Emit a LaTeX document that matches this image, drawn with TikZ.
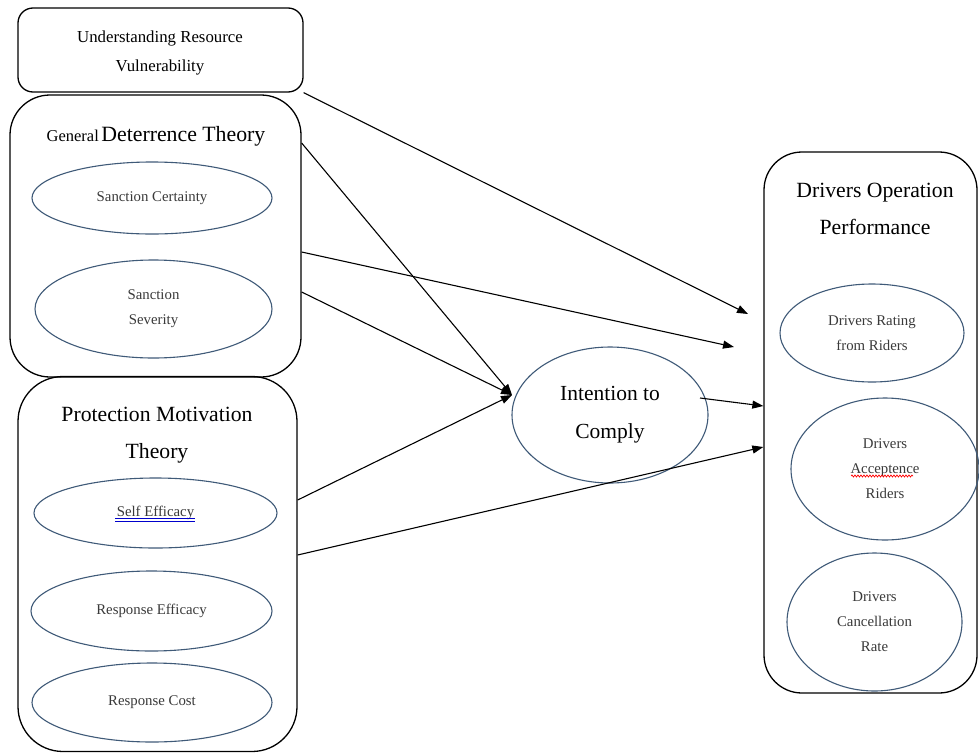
\documentclass[tikz,border=0pt]{standalone}
\usepackage{fontspec}
\setmainfont{Liberation Serif}
\usetikzlibrary{shapes.geometric,arrows.meta,decorations.pathmorphing}
\definecolor{ellc}{HTML}{3F5A78}
\definecolor{etext}{HTML}{3A3A3A}
\begin{document}
\begin{tikzpicture}[x=1pt,y=-1pt,
  box/.style={draw=black, line width=1.3pt, rectangle, inner sep=0pt},
  ell/.style={draw=ellc, line width=1.1pt, ellipse, inner sep=0pt, text=etext, align=center, font=\fontsize{14.8}{25}\selectfont},
  arr/.style={line width=1.1pt, -{Triangle[length=11pt,width=8pt]}},
  ttl/.style={align=center, inner sep=0pt}]
\fill[white] (0,0) rectangle (979,755);
\useasboundingbox (0,0) rectangle (979,755);
% boxes
\node[box, rounded corners=15pt, minimum width=285pt, minimum height=84pt] (urv) at (160.5,50) {};
\node[box, rounded corners=40pt, minimum width=291pt, minimum height=282pt] (gdt) at (155.5,236) {};
\node[box, rounded corners=45pt, minimum width=279pt, minimum height=375pt] (pmt) at (157.5,564) {};
\node[box, rounded corners=38pt, minimum width=213pt, minimum height=541pt] (dop) at (870.5,422.5) {};
% titles
\node[ttl, font=\fontsize{16.8}{29}\selectfont] (urvt) at (160,53) {Understanding Resource\\Vulnerability};
\node[ttl] (gdtt) at (156,136) {{\fontsize{16.5}{20}\selectfont General} {\fontsize{21.8}{24}\selectfont Deterrence Theory}};
\node[ttl, font=\fontsize{21.7}{37}\selectfont] (pmtt) at (157,435) {Protection Motivation\\Theory};
\node[ttl, font=\fontsize{21.7}{37}\selectfont] (dopt) at (875,209) {Drivers Operation\\Performance};
% ellipses
\node[ell, minimum width=240pt, minimum height=72pt] (sc) at (152,198) {Sanction Certainty};
\node[ell, minimum width=237pt, minimum height=98pt] (ss) at (153.5,309) {Sanction\\Severity};
\node[ell, minimum width=243pt, minimum height=70pt] (se) at (155.5,513) {Self Efficacy};
\node[ell, minimum width=241pt, minimum height=80pt] (re) at (151.5,611) {Response Efficacy};
\node[ell, minimum width=240pt, minimum height=79pt] (rc) at (152,702.5) {Response Cost};
\node[ell, text=black, minimum width=196pt, minimum height=136pt, font=\fontsize{21.5}{38}\selectfont] (itc) at (610,415) {Intention to\\Comply};
\node[ell, minimum width=184pt, minimum height=98pt] (dr) at (872,333) {Drivers Rating\\from Riders};
\node[ell, minimum width=188pt, minimum height=142pt] (da) at (885,469) {Drivers\\Acceptence\\Riders};
\node[ell, minimum width=175pt, minimum height=138pt] (dc) at (874.5,622) {Drivers\\Cancellation\\Rate};
% proofing marks
\draw[blue!80!black, line width=0.7pt] (115,518.5) -- (195,518.5);
\draw[blue!80!black, line width=0.7pt] (115,521) -- (195,521);
\draw[red, line width=0.7pt, decorate, decoration={snake, amplitude=1pt, segment length=3pt}] (851,476) -- (913,476);
% connector end points
\coordinate (s2) at (gdt.east |- 0,143);
\coordinate (s3) at (gdt.east |- 0,252);
\coordinate (s4) at (gdt.east |- 0,292);
\coordinate (s5) at (pmt.east |- 0,500);
\coordinate (s6) at (pmt.east |- 0,555);
\coordinate (s7) at (700,398);
\coordinate (itcin) at (512,395);
\coordinate (e1) at (748,314);
\coordinate (e3) at (734,347);
\coordinate (e6) at (dop.west |- 0,447);
\coordinate (e7) at (dop.west |- 0,406);
% connectors
\draw[arr] (urv.south east) -- (e1);
\draw[arr] (s2) -- (itcin);
\draw[arr] (s3) -- (e3);
\draw[arr] (s4) -- (itcin);
\draw[arr] (s5) -- (itcin);
\draw[arr] (s6) -- (e6);
\draw[arr] (s7) -- (e7);
\end{tikzpicture}
\end{document}
